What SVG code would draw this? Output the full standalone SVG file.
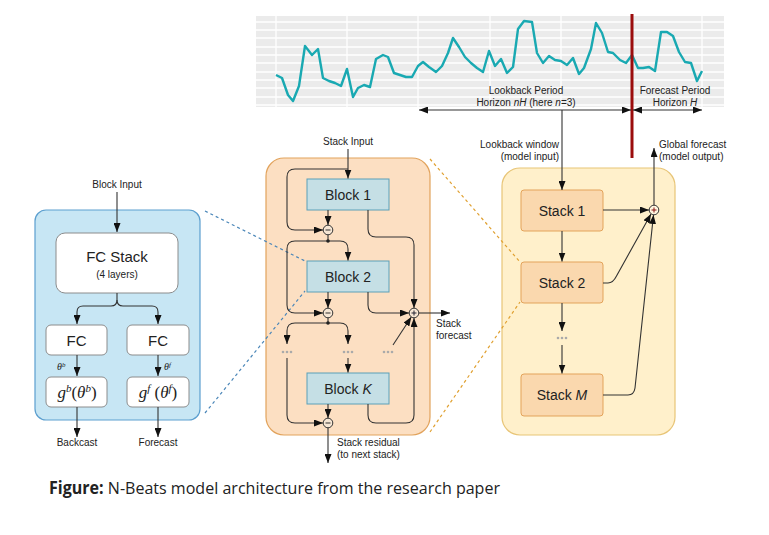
<svg xmlns="http://www.w3.org/2000/svg" width="769" height="535" viewBox="0 0 769 535">
<style>
  text { font-family: "Liberation Sans", Arial, sans-serif; fill: #222; }
  .lbl { font-size: 10px; }
  .blk { font-size: 14px; }
  .ser { font-family: "Liberation Serif", "Times New Roman", serif; }
  .c { stroke: #333; stroke-width: 1.1; fill: none; }
  .ca { stroke: #333; stroke-width: 1.1; fill: none; marker-end: url(#ah); }
  .grid { stroke: #fff; stroke-width: 1.3; }
  .dot { fill: #aaa; }
</style>
<defs>
  <marker id="ah" viewBox="0 0 10 10" refX="10" refY="5" markerUnits="userSpaceOnUse" markerWidth="9" markerHeight="7" orient="auto-start-reverse" preserveAspectRatio="none">
    <path d="M0,0 L10,5 L0,10 z" fill="#111"/>
  </marker>
</defs>
<rect width="769" height="535" fill="#fff"/>

<!-- Time series chart -->
<g id="chart">
  <rect x="256" y="16" width="468" height="91" fill="#ebebeb"/>
  <g class="grid">
    <line x1="256" y1="22" x2="724" y2="22"/>
    <line x1="256" y1="30" x2="724" y2="30"/>
    <line x1="256" y1="38" x2="724" y2="38"/>
    <line x1="256" y1="47" x2="724" y2="47"/>
    <line x1="256" y1="55" x2="724" y2="55"/>
    <line x1="256" y1="63" x2="724" y2="63"/>
    <line x1="256" y1="72" x2="724" y2="72"/>
    <line x1="256" y1="80" x2="724" y2="80"/>
    <line x1="256" y1="88" x2="724" y2="88"/>
    <line x1="256" y1="97" x2="724" y2="97"/>
    <line x1="256" y1="105" x2="724" y2="105"/>
    <line x1="276" y1="16" x2="276" y2="107"/>
    <line x1="347" y1="16" x2="347" y2="107"/>
    <line x1="418" y1="16" x2="418" y2="107"/>
    <line x1="490" y1="16" x2="490" y2="107"/>
    <line x1="561" y1="16" x2="561" y2="107"/>
    <line x1="702" y1="16" x2="702" y2="107"/>
  </g>
  <polyline fill="none" stroke="#19a9b2" stroke-width="2.4" stroke-linejoin="round" points="276,75 282,78 288,95 293,101 299,86 305,46 312,55 318,49 323,78 329,81 335,83 341,86 347,69 353,97 358,88 364,85 370,87 376,59 383,55 388,57 394,73 400,75 406,77 412,77 418,66 423,62 429,67 436,72 442,66 448,53 453,38 459,47 465,57 471,63 477,68 483,72 489,51 495,66 501,59 507,73 513,67 518,29 524,21 532,22 537,53 543,63 549,56 555,60 561,61 567,65 573,58 579,74 584,68 591,49 596,23 602,33 608,52 613,53 620,60 626,63 632,55 638,68 643,68 649,67 655,71 661,32 667,32 673,36 679,52 685,62 691,63 697,81 702,71"/>
  <text class="lbl" x="526" y="94" text-anchor="middle">Lookback Period</text>
  <text class="lbl" x="526" y="106" text-anchor="middle">Horizon <tspan font-style="italic">nH</tspan> (here <tspan font-style="italic">n</tspan>=3)</text>
  <text class="lbl" x="675" y="94" text-anchor="middle">Forecast Period</text>
  <text class="lbl" x="675" y="106" text-anchor="middle">Horizon <tspan font-style="italic">H</tspan></text>
  <line x1="632" y1="14" x2="632" y2="158" stroke="#9b0d0d" stroke-width="3"/>
</g>

<!-- Left: block detail -->
<g id="block-detail">
  <rect x="35" y="210" width="165" height="210" rx="11" fill="#c7e6f4" stroke="#5c9fcf" stroke-width="1.2"/>
  <text class="lbl" x="117" y="188" text-anchor="middle">Block Input</text>
  <g id="fc-stack">
    <rect x="56" y="233" width="122" height="60" rx="9" fill="#fff" stroke="#8c8c8c" stroke-width="1"/>
    <text x="117" y="262" text-anchor="middle" font-size="15">FC Stack</text>
    <text x="117" y="278" text-anchor="middle" font-size="10">(4 layers)</text>
  </g>
  <g id="fc-b">
    <rect x="46" y="325" width="61" height="30" rx="5" fill="#fff" stroke="#8c8c8c" stroke-width="1"/>
    <text x="76.5" y="346" text-anchor="middle" font-size="15">FC</text>
  </g>
  <g id="fc-f">
    <rect x="127" y="325" width="62" height="30" rx="5" fill="#fff" stroke="#8c8c8c" stroke-width="1"/>
    <text x="158" y="346" text-anchor="middle" font-size="15">FC</text>
  </g>
  <g id="g-b">
    <rect x="46" y="377" width="61" height="30" rx="5" fill="#fff" stroke="#8c8c8c" stroke-width="1"/>
    <text class="ser" x="77" y="398" text-anchor="middle" font-size="17"><tspan font-style="italic">g</tspan><tspan font-style="italic" font-size="11" dy="-6">b</tspan><tspan dy="6">(</tspan><tspan font-style="italic">θ</tspan><tspan font-style="italic" font-size="11" dy="-6">b</tspan><tspan dy="6">)</tspan></text>
  </g>
  <g id="g-f">
    <rect x="127" y="377" width="62" height="30" rx="5" fill="#fff" stroke="#8c8c8c" stroke-width="1"/>
    <text class="ser" x="158" y="398" text-anchor="middle" font-size="17"><tspan font-style="italic">g</tspan><tspan font-style="italic" font-size="11" dy="-6">f</tspan><tspan dy="6"> (</tspan><tspan font-style="italic">θ</tspan><tspan font-style="italic" font-size="11" dy="-6">f</tspan><tspan dy="6">)</tspan></text>
  </g>
  <text class="ser" x="57" y="370" font-size="10" font-style="italic">θ<tspan font-size="7" dy="-3">b</tspan></text>
  <text class="ser" x="164" y="370" font-size="10" font-style="italic">θ<tspan font-size="7" dy="-3">f</tspan></text>
  <text class="lbl" x="77" y="446" text-anchor="middle">Backcast</text>
  <text class="lbl" x="158" y="446" text-anchor="middle">Forecast</text>
</g>

<!-- Middle: stack detail -->
<g id="stack-detail">
  <rect x="266" y="158" width="164" height="277" rx="18" fill="#fcdfc2" stroke="#e2a35c" stroke-width="1.2"/>
  <text class="lbl" x="348" y="145" text-anchor="middle">Stack Input</text>
  <g id="block1">
    <rect x="307" y="179" width="82" height="31" fill="#c5dfe5" stroke="#5aa0b8" stroke-width="1"/>
    <text class="blk" x="348" y="200" text-anchor="middle">Block 1</text>
  </g>
  <g id="block2">
    <rect x="307" y="261" width="82" height="31" fill="#c5dfe5" stroke="#5aa0b8" stroke-width="1"/>
    <text class="blk" x="348" y="282" text-anchor="middle">Block 2</text>
  </g>
  <g id="blockK">
    <rect x="307" y="373" width="82" height="31" fill="#c5dfe5" stroke="#5aa0b8" stroke-width="1"/>
    <text class="blk" x="348" y="394" text-anchor="middle">Block <tspan font-style="italic">K</tspan></text>
  </g>
  <text class="lbl" x="436" y="327">Stack</text>
  <text class="lbl" x="436" y="339">forecast</text>
  <text class="lbl" x="337" y="446">Stack residual</text>
  <text class="lbl" x="337" y="458">(to next stack)</text>
</g>

<!-- Right: model -->
<g id="model">
  <rect x="502" y="168" width="173" height="267" rx="18" fill="#fff0cb" stroke="#e8c577" stroke-width="1.2"/>
  <text class="lbl" x="559" y="148" text-anchor="end">Lookback window</text>
  <text class="lbl" x="559" y="160" text-anchor="end">(model input)</text>
  <text class="lbl" x="659" y="148">Global forecast</text>
  <text class="lbl" x="659" y="160">(model output)</text>
  <g id="stack1">
    <rect x="521" y="190" width="82" height="41" rx="3" fill="#fad8ae" stroke="#e3a35a" stroke-width="1"/>
    <text class="blk" x="562" y="216" text-anchor="middle">Stack 1</text>
  </g>
  <g id="stack2">
    <rect x="521" y="262" width="82" height="41" rx="3" fill="#fad8ae" stroke="#e3a35a" stroke-width="1"/>
    <text class="blk" x="562" y="288" text-anchor="middle">Stack 2</text>
  </g>
  <g id="stackM">
    <rect x="521" y="374" width="82" height="42" rx="3" fill="#fad8ae" stroke="#e3a35a" stroke-width="1"/>
    <text class="blk" x="562" y="400" text-anchor="middle">Stack <tspan font-style="italic">M</tspan></text>
  </g>
</g>

<!-- Connectors -->
<g id="connectors">
  <!-- dashed zoom lines -->
  <line x1="205" y1="211" x2="305" y2="261" stroke="#4a86b8" stroke-width="1.2" stroke-dasharray="3,3"/>
  <line x1="205" y1="413" x2="305" y2="291" stroke="#4a86b8" stroke-width="1.2" stroke-dasharray="3,3"/>
  <line x1="430" y1="159" x2="520" y2="262" stroke="#e0a030" stroke-width="1.2" stroke-dasharray="3,3"/>
  <line x1="430" y1="432" x2="520" y2="302" stroke="#e0a030" stroke-width="1.2" stroke-dasharray="3,3"/>

  <!-- chart arrows -->
  <line class="ca" x1="419" y1="110" x2="631" y2="110" marker-start="url(#ah)"/>
  <line class="ca" x1="633" y1="110" x2="702" y2="110" marker-start="url(#ah)"/>
  <path class="ca" d="M562,110 V190"/>

  <!-- left block -->
  <path class="ca" d="M117,192 V232"/>
  <path class="ca" d="M117,293 V300 Q117,306 111,306 H83 Q77,306 77,312 V324"/>
  <path class="ca" d="M117,300 Q117,306 123,306 H152 Q158,306 158,312 V324"/>
  <path class="ca" d="M77,355 V376"/>
  <path class="ca" d="M158,355 V376"/>
  <path class="ca" d="M77,407 V437"/>
  <path class="ca" d="M158,407 V437"/>

  <!-- middle stack -->
  <path class="ca" d="M348,149 V178.5"/>
  <path class="ca" d="M348,169 H295 Q287,169 287,177 V222 Q287,230 295,230 H323"/>
  <path class="ca" d="M328,210 V225"/>
  <path class="ca" d="M368,210 V229 Q368,237 376,237 H406 Q414,237 414,245 V308"/>
  <path class="c" d="M328,235 V241"/>
  <path class="ca" d="M328,241 H295 Q287,241 287,249 V305 Q287,313 295,313 H323"/>
  <path class="ca" d="M328,241 H340 Q348,241 348,249 V260.5"/>
  <path class="ca" d="M328,292 V308"/>
  <path class="ca" d="M368,292 V305 Q368,313 376,313 H409"/>
  <path class="c" d="M328,318 V323"/>
  <path class="ca" d="M328,323 H295 Q287,323 287,331 V344"/>
  <path class="ca" d="M328,323 H340 Q348,323 348,331 V344"/>
  <path class="ca" d="M348,358 V372.5"/>
  <path class="ca" d="M393,345 L411.3,317"/>
  <path class="ca" d="M287,358 V415 Q287,423 295,423 H323"/>
  <path class="ca" d="M328,404 V418"/>
  <path class="ca" d="M368,404 V415 Q368,423 376,423 H406 Q414,423 414,415 V318"/>
  <path class="ca" d="M419,313 H450"/>
  <path class="ca" d="M328,428 V463"/>
  <circle cx="328" cy="241" r="1.8" fill="#222"/>
  <circle cx="328" cy="323" r="1.8" fill="#222"/>
  <g class="dot">
    <circle cx="283" cy="352" r="1.3"/><circle cx="287" cy="352" r="1.3"/><circle cx="291" cy="352" r="1.3"/>
    <circle cx="344" cy="352" r="1.3"/><circle cx="348" cy="352" r="1.3"/><circle cx="352" cy="352" r="1.3"/>
    <circle cx="384" cy="352" r="1.3"/><circle cx="388" cy="352" r="1.3"/><circle cx="392" cy="352" r="1.3"/>
  </g>
  <!-- minus / plus nodes -->
  <g stroke="#333" stroke-width="1">
    <circle cx="328" cy="230" r="4.8" fill="#f6e6d4"/>
    <line x1="325.5" y1="230" x2="330.5" y2="230"/>
    <circle cx="328" cy="313" r="4.8" fill="#f6e6d4"/>
    <line x1="325.5" y1="313" x2="330.5" y2="313"/>
    <circle cx="328" cy="423" r="4.8" fill="#f6e6d4"/>
    <line x1="325.5" y1="423" x2="330.5" y2="423"/>
    <circle cx="414" cy="313" r="4.8" fill="#f6e6d4"/>
    <line x1="411.5" y1="313" x2="416.5" y2="313" stroke="#223"/>
    <line x1="414" y1="310.5" x2="414" y2="315.5" stroke="#223"/>
  </g>

  <!-- right model -->
  <path class="ca" d="M603,210 H649"/>
  <path class="ca" d="M654,205 V148"/>
  <path class="ca" d="M562,231 V261.5"/>
  <path class="ca" d="M562,303 V331"/>
  <path class="ca" d="M562,345 V373.5"/>
  <path class="ca" d="M603,283 H608 Q613,283 616.5,276 L651,214"/>
  <path class="ca" d="M603,395 H628 Q634,395 635,388 L653.5,215"/>
  <g class="dot">
    <circle cx="558" cy="338" r="1.3"/><circle cx="562" cy="338" r="1.3"/><circle cx="566" cy="338" r="1.3"/>
  </g>
  <g stroke="#333" stroke-width="1">
    <circle cx="654" cy="210" r="4.8" fill="#fff6e0"/>
    <line x1="651.5" y1="210" x2="656.5" y2="210" stroke="#8a1010"/>
    <line x1="654" y1="207.5" x2="654" y2="212.5" stroke="#8a1010"/>
  </g>
</g>

<text x="49" y="494" font-size="17" textLength="451" lengthAdjust="spacingAndGlyphs" style="font-family: 'Open Sans', 'Noto Sans', sans-serif"><tspan font-weight="bold">Figure:</tspan> N-Beats model architecture from the research paper</text>
</svg>
